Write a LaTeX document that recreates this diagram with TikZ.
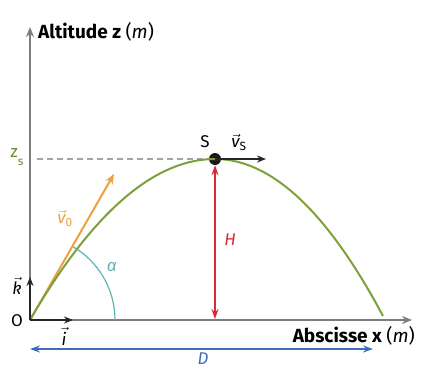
\documentclass[tikz,border=0pt]{standalone}
\usepackage{fontspec}
\setmainfont{Fira Sans}
\usetikzlibrary{arrows.meta}

\definecolor{axisgray}{RGB}{125,125,125}
\definecolor{trajgreen}{RGB}{125,160,60}
\definecolor{vorange}{RGB}{238,160,60}
\definecolor{hred}{RGB}{215,45,50}
\definecolor{dblue}{RGB}{60,110,185}
\definecolor{angteal}{RGB}{95,180,180}

\newcommand{\vc}[1]{$\vec{\textit{#1}}$}

\tikzset{
  axis/.style={axisgray, line width=2pt, -{Stealth[length=10pt,width=8pt]}},
  unitvec/.style={black!85, line width=1.6pt, -{Stealth[length=9pt,width=7pt]}},
  label/.style={font=\fontsize{17}{20}\selectfont, inner sep=1pt},
  axislabel/.style={font=\fontsize{19}{22}\selectfont\bfseries, inner sep=1pt}
}

\begin{document}
\begin{tikzpicture}[x=1pt,y=1pt]
		\useasboundingbox (0,0) rectangle (427,368);

		\coordinate (O) at (30,48);
		\coordinate (zend) at (30,341);
		\coordinate (xend) at (412,48);
		\coordinate (kend) at (30,91);
		\coordinate (iend) at (73,48);
		\coordinate (zs) at (37,209);
		\coordinate (vsend) at (266,209);
		\coordinate (v0end) at (114,194);
		\coordinate (land) at (383,52);
		\coordinate (Hbot) at (215,49);
		\coordinate (Dleft) at (30,19);
		\coordinate (Dright) at (373,19);

		\draw[axis] (O) -- (zend);
		\draw[axis] (O) -- (xend);

		\node[axislabel, anchor=west] (zlab) at (37,336) {Altitude z \mdseries(\textit{m})};
		\node[axislabel, anchor=east] (xlab) at (416,32) {Abscisse x \mdseries(\textit{m})};

		\draw[angteal, line width=1.2pt] (115,48) arc (0:60:85);
		\node[label, angteal] (alpha) at (112,101) {\itshape α};

		\draw[vorange, line width=2pt, -{Stealth[length=10pt,width=8pt]}] (O) -- (v0end);
		\node[label, vorange] (v0) at (65,150) {\vc{v}\textsubscript{0}};

		\node[circle, fill=black!90, inner sep=0pt, minimum size=12pt] (S) at (215,209) {};

		\draw[axisgray!70, line width=1.2pt, dash pattern=on 6pt off 4pt] (zs) -- (S);
		\node[label, trajgreen!85!black] (zslab) at (17,211) {z\raisebox{-8pt}{\fontsize{12}{14}\selectfont s}};

		\draw[trajgreen, line width=2pt] (O) .. controls (92,155) and (154,209) .. (S.center)
			.. controls (271,209) and (327,157) .. (land);

		\draw[hred, line width=1.6pt, {Stealth[length=10pt,width=7pt]}-{Stealth[length=10pt,width=7pt]}] (S.south) -- (Hbot);
		\node[label, hred] (H) at (230,128) {\itshape H};

		\draw[unitvec] (S.center) -- (vsend);
		\node[label] (Slab) at (205,226) {S};
		\node[label] (vs) at (239,226) {\vc{v}\textsubscript{S}};

		\draw[unitvec] (O) -- (kend);
		\draw[unitvec] (O) -- (iend);
		\node[label] (Olab) at (17,47) {O};
		\node[label] (klab) at (17,82) {\vc{k}};
		\node[label] (ilab) at (64,32) {\vc{i}};

		\draw[dblue, line width=1.6pt, {Stealth[length=10pt,width=7pt]}-{Stealth[length=10pt,width=7pt]}] (Dleft) -- (Dright);
		\node[label, dblue, inner sep=0pt] (D) at (203,9) {\itshape D};
	\end{tikzpicture}
\end{document}
